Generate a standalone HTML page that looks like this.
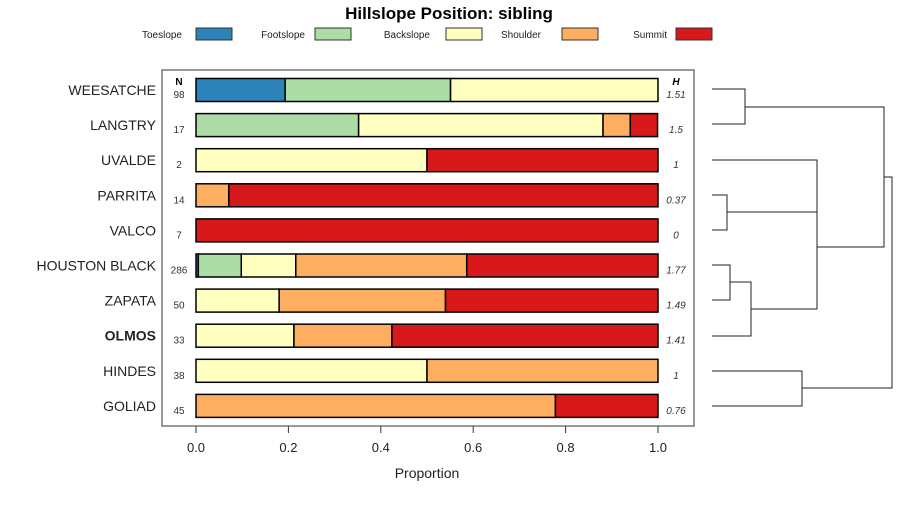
<!DOCTYPE html>
<html><head><meta charset="utf-8"><style>
body{margin:0;background:#fff;}
svg text{font-family:"Liberation Sans",sans-serif;}
</style></head><body>
<svg id="chart" width="900" height="500" xmlns="http://www.w3.org/2000/svg">
<text x="449" y="19" text-anchor="middle" font-size="17" font-weight="bold">Hillslope Position: sibling</text>
<g id="legend"></g>
<rect x="162" y="70" width="532" height="356" fill="none" stroke="#333" stroke-width="1"/>
<text x="179" y="85" text-anchor="middle" font-size="10" font-weight="bold">N</text>
<text x="676" y="85" text-anchor="middle" font-size="10" font-weight="bold" font-style="italic">H</text>
<g id="bars"></g>
<g id="xaxis"></g>
<text x="427" y="478" text-anchor="middle" font-size="14" fill="#222">Proportion</text>
<g id="dendro" stroke="#222" stroke-width="1" fill="none"></g>
</svg>
<script>
const categories=["WEESATCHE","LANGTRY","UVALDE","PARRITA","VALCO","HOUSTON BLACK","ZAPATA","OLMOS","HINDES","GOLIAD"];
const seriesNames=["Toeslope","Footslope","Backslope","Shoulder","Summit"];
const colors=["#2B83BA","#ABDDA4","#FFFFBF","#FDAE61","#D7191C"];
const toeslope=[0.193,0,0,0,0,0.005,0,0,0,0];
const footslope=[0.358,0.352,0,0,0,0.093,0,0,0,0];
const backslope=[0.449,0.529,0.5,0,0,0.118,0.18,0.212,0.5,0];
const shoulder=[0,0.059,0,0.071,0,0.37,0.36,0.212,0.5,0.778];
const summit=[0,0.059,0.5,0.929,1,0.414,0.46,0.576,0,0.222];
const nValues=["98","17","2","14","7","286","50","33","38","45"];
const hValues=["1.51","1.5","1","0.37","0","1.77","1.49","1.41","1","0.76"];
const xTicks=[0,0.2,0.4,0.6,0.8,1.0];
const xTickLabels=["0.0","0.2","0.4","0.6","0.8","1.0"];
const series=[toeslope,footslope,backslope,shoulder,summit];
const NS="http://www.w3.org/2000/svg";
const X=v=>196+v*462;
const Y=i=>90+i*35.1;
function mk(tag,attrs,parent){const e=document.createElementNS(NS,tag);for(const k in attrs)e.setAttribute(k,attrs[k]);parent.appendChild(e);return e;}
const bars=document.getElementById('bars');
categories.forEach((c,i)=>{
  const y=Y(i);
  let t=mk('text',{x:156,y:y+5,'text-anchor':'end','font-size':14,fill:'#222','font-weight':c==="OLMOS"?'bold':'normal'},bars);
  t.textContent=c;
  
  
  let cum=0;
  series.forEach((s,j)=>{
    const v=s[i];
    if(v>0){
      const r=mk('rect',{x:X(cum),y:y-11.5,width:v*462,height:23,fill:colors[j],stroke:'#000','stroke-width':1.5},bars);
      
      
    }
    cum+=v;
  });
  let n=mk('text',{x:179,y:y+8,'text-anchor':'middle','font-size':10,fill:'#333'},bars);
  n.textContent=nValues[i];
  
  
  let h=mk('text',{x:676,y:y+8,'text-anchor':'middle','font-size':10,'font-style':'italic',fill:'#333'},bars);
  h.textContent=hValues[i];
  
  
});
const xa=document.getElementById('xaxis');
xTicks.forEach((v,k)=>{
  const l=mk('line',{x1:X(v),x2:X(v),y1:426,y2:433,stroke:'#333'},xa);
  
  
  const t=mk('text',{x:X(v),y:452,'text-anchor':'middle','font-size':13,fill:'#222'},xa);
  t.textContent=xTickLabels[k];
  
  
});
const lg=document.getElementById('legend');
const lx=[160,258,381,507,630];
seriesNames.forEach((s,j)=>{
  const t=mk('text',{x:lx[j]+22,y:38,'text-anchor':'end','font-size':10,fill:'#222'},lg);
  t.textContent=s;
  
  
  const r=mk('rect',{x:lx[j]+(j==0?23:57),y:28,width:36,height:12,fill:colors[j],stroke:'#333','stroke-width':1},lg);
  
  
});
// adjust legend positions to match reference
const lgPos=[[182,196],[305,315],[430,446],[541,562],[667,676]];
const lt=lg.querySelectorAll('text'),lr=lg.querySelectorAll('rect');
lgPos.forEach((p,j)=>{lt[j].setAttribute('x',p[0]);lr[j].setAttribute('x',p[1]);});
const d=document.getElementById('dendro');
const paths=["M712,89H745V124H712","M712,195H727V230H712","M712,265H730V300H712","M730,282H751V336H712","M712,160H817V309H751","M727,212H817","M817,247H884V107H745","M884,177H892V388H802","M712,371H802V406H712"];
paths.forEach(p=>{const e=mk('path',{d:p},d);});
</script>
</body></html>
